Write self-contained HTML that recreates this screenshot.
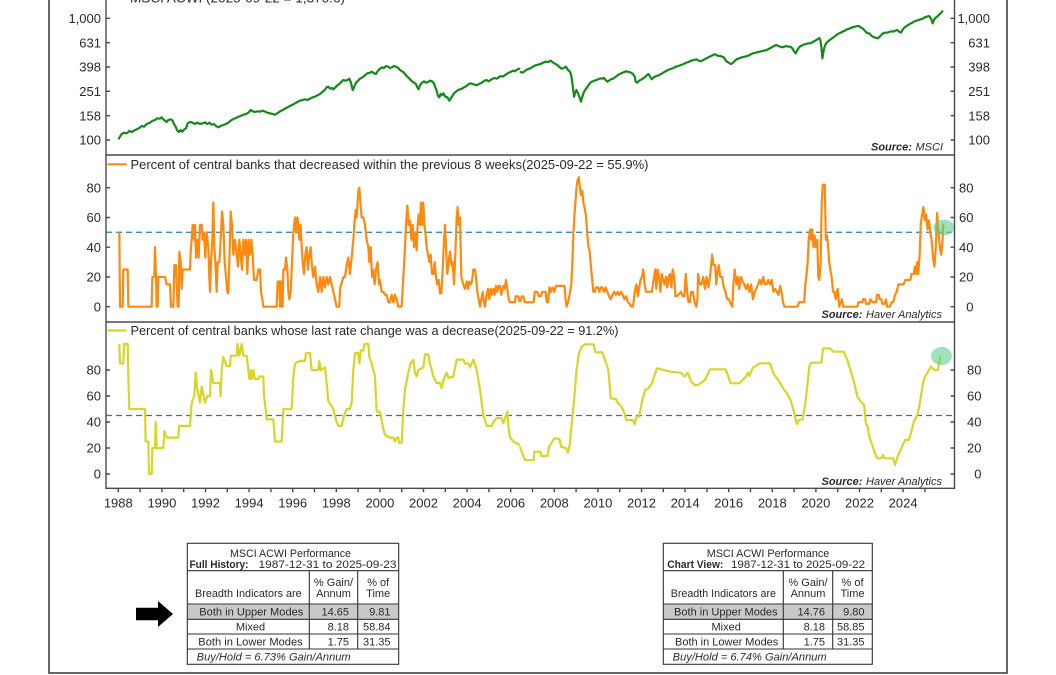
<!DOCTYPE html>
<html><head><meta charset="utf-8"><style>
html,body{margin:0;padding:0;background:#fff;}
svg{display:block;}
text{font-family:"Liberation Sans",sans-serif;fill:#2a2a2a;}
</style></head><body>
<svg width="1056" height="675" viewBox="0 0 1056 675" xmlns="http://www.w3.org/2000/svg">
<rect width="1056" height="675" fill="#fff"/>
<!-- outer frame -->
<path d="M49,0 V673 H1007 V0" fill="none" stroke="#333" stroke-width="1.5"/>

<!-- dashed reference lines -->
<line x1="106" y1="232.3" x2="954" y2="232.3" stroke="#3a8fc0" stroke-width="1.3" stroke-dasharray="6,4"/>
<line x1="106" y1="415.5" x2="954" y2="415.5" stroke="#666" stroke-width="1.3" stroke-dasharray="6,4"/>

<!-- GREEN series (MSCI ACWI) -->
<g fill="none" stroke="#17881a" stroke-width="2.2" stroke-linejoin="round">
<polyline vector-effect="non-scaling-stroke" transform="matrix(0.33333 0 0 0.33333 0 0)" points="355,418 360,410 365,402 372,398 380,400 388,393 395,396 402,392 410,388 418,384 425,378 432,380 440,372 450,368 458,362 465,360 472,355 480,356 485,352 490,358 495,362 500,366 505,360 512,358 518,362 522,372 527,380 532,392 537,396 542,390 547,395 553,388 558,385 563,370 570,366 578,368 585,372 592,368 600,372 608,370 615,367 622,372 628,368 635,374 642,372 648,378 655,382 662,378 670,375 678,372 685,368 692,362 700,357 708,354 715,350 722,348 730,344 738,342 745,338 752,330 758,334 765,336 772,334 780,335 788,332 795,335 802,338 810,340 818,342 825,344 832,340 840,334 848,330 855,326 862,322 870,318 878,314 885,310 892,306 900,302 908,300 915,298 922,300 930,296 938,292 945,290 952,286 960,282 967,276 974,270 980,262 985,260 990,266 995,264 1000,268 1006,262 1012,256 1018,252 1025,245 1030,240 1036,242 1042,240 1048,236 1053,248 1058,270 1062,262 1068,248 1074,242 1080,236 1088,232 1095,226 1102,220 1110,218 1116,215 1122,220 1128,222 1134,212 1140,206 1146,202 1152,204 1158,198 1164,200 1170,204 1176,202 1182,198 1188,200 1195,204 1200,210 1206,214 1212,218 1218,226 1224,232 1230,238 1236,244 1242,248 1248,252 1252,262 1256,268 1260,256 1266,248 1272,244 1278,248 1284,246 1290,242 1296,244 1302,250 1306,262 1310,272 1314,288 1318,292 1322,282 1326,286 1330,280 1336,290 1342,292 1348,302 1352,296 1356,290 1362,280 1368,275 1374,270 1380,268 1386,266 1392,262 1400,258 1406,252 1412,250 1418,252 1424,254 1430,256 1436,252 1442,250 1448,246 1454,242 1460,240 1466,244 1472,240 1478,236 1484,234 1490,236 1496,232 1502,228 1508,230 1514,226 1520,222 1526,218 1532,216 1538,212 1544,214 1550,210 1556,206 1560,208"/>
<polyline vector-effect="non-scaling-stroke" transform="matrix(0.34247 0 0 0.33333 520 0)" points="0,215 8,218 15,212 22,208 30,205 38,200 45,196 52,194 60,192 67,188 75,185 82,186 90,182 97,188 104,192 110,196 116,202 122,206 128,204 134,200 140,210 146,215 150,228 153,250 156,275 158,290 161,278 165,270 170,282 175,295 178,305 182,290 186,278 190,270 196,262 202,252 208,246 215,243 222,240 228,238 235,235 240,236 245,234 250,240 255,245 260,242 265,238 272,236 280,230 288,224 295,220 302,217 310,214 318,216 324,218 330,222 335,230 338,245 342,248 348,242 352,240 358,236 364,232 370,226 375,222 380,230 385,238 390,232 398,228 405,226 412,222 418,218 425,214 432,210 440,207 448,204 455,200 462,198 470,195 478,192 485,188 492,186 500,182 508,180 515,178 522,182 528,184 535,180 542,176 550,172 558,168 565,164 570,163 575,166 580,168 585,168 590,170 595,172 600,180 605,186 610,188 615,192 620,190 626,184 632,178 640,175 648,172 656,170 664,168 672,164 680,160 688,158 696,156 704,154 712,152 720,150 728,146 735,142 742,138 748,135 754,138 760,140 766,142 772,140 778,138 784,140 790,140 796,146 800,154 805,160 810,150 815,142 820,138 828,134 835,132 842,130 848,130 855,126 862,122 868,118 874,114 877,120 880,142 883,175 886,155 890,138 895,128 902,122 910,116 918,110 925,104 932,100 940,96 948,92 955,88 962,86 970,82 978,80 985,78 990,78 995,82 1000,85 1005,90 1010,96 1015,100 1020,100 1025,106 1030,110 1035,112 1040,114 1045,115 1050,110 1055,105 1060,100 1066,98 1072,98 1078,96 1084,94 1090,95 1096,92 1102,90 1108,96 1112,98 1116,92 1120,85 1126,80 1132,76 1138,72 1145,68 1152,64 1158,62 1164,60 1170,58 1176,56 1182,52 1188,50 1194,48 1198,52 1202,60 1205,70 1208,62 1212,55 1218,50 1224,44 1230,38 1235,32"/>
</g>

<!-- ORANGE series -->
<g fill="none" stroke="#ff8a12" stroke-width="2.2" stroke-linejoin="round">
<polyline vector-effect="non-scaling-stroke" transform="matrix(0.33333 0 0 -1.4875 0 306.7)" points="358,50 360,0 368,0 370,25 383,25 385,0 455,0 457,20 463,20 465,40 468,20 470,0 473,0 475,20 495,20 500,15 510,15 513,0 520,0 523,28 528,28 530,15 533,0 536,0 538,37 542,30 545,12 548,25 570,25 572,37 575,45 578,55 582,45 585,55 588,33 592,45 596,33 600,55 605,55 608,45 612,50 616,33 620,50 625,40 628,20 630,10 633,30 637,45 640,70 643,40 646,30 650,10 653,30 658,30 662,45 666,64 670,55 674,30 678,20 682,10 685,9 688,30 692,64 696,55 700,35 705,45 710,35 714,27 718,45 722,35 726,25 730,45 734,35 738,45 742,22 746,45 750,35 754,45 758,35 762,18 770,18 775,25 780,25 783,10 787,5 790,0 830,0 833,17 838,17 840,0 843,17 846,0 848,0 850,25 855,25 858,33 862,25 865,10 868,5 872,10 875,25 880,50 885,60 888,50 892,60 895,55 898,45 902,55 905,40 908,30 912,22 916,35 920,40 924,25 928,35 932,40 936,27 940,20 945,27 950,15 955,10 960,20 965,10 970,20 975,13 980,20 985,15 990,20 995,15 1000,10 1005,5 1010,0 1018,0 1020,12 1030,20 1035,20 1040,28 1045,33 1050,22 1055,33 1060,45 1063,55 1067,65 1070,60 1075,78 1078,80 1081,70 1085,60 1090,60 1095,55 1100,45 1105,40 1108,30 1112,40 1116,20 1120,25 1124,15 1128,25 1133,30 1137,15 1140,18 1145,10 1150,10 1155,8 1160,8 1165,3 1170,3 1175,8 1180,3 1185,8 1190,5 1195,0 1205,0 1210,20 1215,40 1218,55 1222,68 1226,55 1230,58 1234,45 1238,55 1242,40 1246,50 1250,38 1253,55 1256,62 1260,55 1263,70 1266,55 1270,70 1273,55 1276,50 1280,40 1284,35 1288,30 1292,35 1296,22 1300,22 1304,30 1308,20 1312,15 1316,18 1320,9 1324,9 1328,25 1332,45 1335,55 1338,40 1342,22 1346,30 1350,37 1354,28 1358,30 1362,15 1366,35 1370,60 1373,67 1376,55 1380,60 1384,20 1390,15 1395,12 1400,17 1404,12 1408,17 1412,15 1416,17 1420,25 1425,25 1428,20 1432,10 1436,5 1440,0 1444,5 1448,10 1452,3 1455,0 1460,8 1464,12 1468,5 1472,12 1476,8 1480,12 1484,8 1488,14 1492,10 1496,14 1500,14 1504,8 1510,14 1514,12 1518,18 1522,12 1526,5 1530,3 1545,3 1547,7 1555,7 1560,3"/>
<polyline vector-effect="non-scaling-stroke" transform="matrix(0.34247 0 0 -1.4875 520 306.7)" points="0,3 5,7 10,7 14,3 40,3 43,10 50,10 55,7 60,7 65,10 75,10 78,3 82,3 86,13 90,10 95,13 100,10 105,14 130,14 133,5 136,0 140,3 145,8 150,15 153,30 156,50 160,65 165,80 168,85 172,87 175,80 178,75 182,78 185,70 190,65 193,60 196,50 200,40 203,38 206,30 210,20 214,10 218,10 222,13 228,13 232,10 236,13 240,13 245,10 250,13 255,10 260,7 265,5 270,8 275,10 280,8 285,10 290,8 295,10 300,8 305,5 310,7 315,3 320,2 325,0 330,0 335,10 340,15 344,7 348,13 352,18 356,20 360,25 364,15 368,10 375,10 380,10 385,10 390,18 395,25 398,12 402,25 406,20 410,10 414,22 418,18 422,15 426,20 430,13 434,20 438,22 442,13 446,25 450,20 454,7 458,7 470,10 475,7 480,7 484,22 488,10 492,3 496,3 500,10 505,10 510,3 515,0 518,5 520,22 525,15 530,15 535,20 540,12 545,20 550,13 555,20 558,28 561,35 565,28 570,28 573,15 576,22 580,28 585,20 590,20 595,13 600,10 605,5 610,5 615,2 620,0 623,15 627,25 632,15 636,20 640,12 645,20 650,17 655,15 660,12 665,15 670,10 675,15 680,5 685,10 690,12 695,15 700,18 705,15 710,20 715,15 720,15 725,18 730,15 735,18 740,10 745,12 750,10 755,8 760,14 765,8 768,3 772,0 810,0 815,3 830,3 833,15 836,20 840,30 843,45 847,52 850,45 853,52 857,40 860,48 864,40 868,45 871,20 874,18 878,30 881,70 884,82 890,82 893,45 896,48 900,40 903,30 906,25 910,20 914,10 918,10 922,5 925,10 928,12 932,0 936,3 940,5 944,0 950,0 985,0 988,3 1000,3 1002,5 1008,5 1010,2 1020,2 1023,5 1030,3 1040,3 1042,8 1048,8 1050,5 1055,5 1058,2 1065,2 1068,5 1072,0 1080,0 1085,3 1090,3 1095,8 1100,10 1105,15 1115,15 1120,15 1125,18 1140,18 1143,22 1150,22 1153,27 1157,22 1160,30 1163,22 1167,35 1170,55 1174,62 1178,67 1182,58 1186,62 1190,52 1194,58 1198,50 1202,45 1206,33 1210,27 1214,40 1218,63 1222,50 1226,40 1230,35 1234,45 1236,56"/>
</g>

<!-- YELLOW series -->
<g fill="none" stroke="#d6d62a" stroke-width="2.2" stroke-linejoin="round">
<polyline vector-effect="non-scaling-stroke" transform="matrix(0.33333 0 0 -1.3 0 474)" points="358,100 360,85 370,85 372,100 383,100 385,75 388,50 435,50 437,25 445,25 447,0 455,0 457,20 465,20 467,40 470,20 490,20 493,33 500,28 535,28 537,37 570,37 575,55 583,60 587,78 592,65 600,55 605,67 615,55 622,60 630,60 633,80 640,70 660,70 662,60 665,80 670,90 680,83 690,83 692,91 710,91 712,100 718,91 725,100 730,91 740,91 745,80 748,73 752,80 755,73 760,80 765,73 775,73 778,75 790,75 792,60 797,50 800,42 820,42 825,25 845,25 850,50 875,50 880,75 885,85 900,87 915,87 918,93 930,93 935,80 955,80 958,87 962,80 975,82 980,70 985,56 995,52 1000,50 1010,40 1015,37 1025,37 1032,45 1040,50 1050,50 1055,55 1060,80 1065,93 1075,93 1078,85 1082,95 1090,95 1093,100 1105,100 1108,90 1115,85 1125,75 1130,48 1140,48 1148,37 1155,30 1170,28 1180,28 1185,25 1190,28 1195,28 1197,24 1205,24 1210,50 1215,65 1225,78 1232,85 1240,88 1245,78 1250,75 1255,80 1270,82 1275,92 1285,92 1290,85 1300,75 1310,70 1320,70 1325,66 1330,72 1340,78 1345,74 1360,75 1370,88 1390,88 1395,85 1405,85 1410,82 1420,88 1430,80 1440,65 1450,45 1460,37 1475,37 1480,40 1490,43 1505,43 1510,39 1518,45 1522,48 1525,37 1530,28 1540,25 1555,23 1560,22"/>
<polyline vector-effect="non-scaling-stroke" transform="matrix(0.34247 0 0 0.33333 520 320)" points="0,380 10,410 15,420 40,420 42,395 60,395 62,408 80,408 85,380 100,355 115,357 120,380 135,385 140,398 145,375 152,300 158,240 165,150 172,100 180,80 190,73 215,73 220,97 240,97 250,125 258,150 265,235 280,237 285,248 295,258 300,268 305,280 310,300 330,300 335,313 340,290 348,290 355,250 365,210 375,205 385,190 398,150 400,145 440,155 470,158 480,170 490,158 495,172 500,185 510,195 520,195 540,180 555,148 580,148 600,148 605,160 615,190 640,190 650,180 660,170 665,158 670,168 680,143 700,130 730,130 740,160 750,175 760,190 770,208 780,220 790,240 800,275 808,312 815,300 825,298 830,270 835,235 845,140 850,128 880,128 885,85 905,85 915,95 945,95 955,118 965,150 975,185 985,230 995,245 1005,255 1010,310 1015,320 1020,350 1030,380 1040,410 1045,415 1055,415 1060,405 1065,415 1090,415 1095,435 1100,418 1105,405 1115,380 1125,360 1135,360 1140,345 1150,305 1160,285 1165,265 1175,200 1180,175 1200,140 1210,150 1220,150 1228,108"/>
</g>

<!-- highlight circles -->
<ellipse cx="944" cy="227.5" rx="10.5" ry="8" fill="#5ccf8a" fill-opacity="0.6"/>
<ellipse cx="941.5" cy="356" rx="10.5" ry="9" fill="#5ccf8a" fill-opacity="0.6"/>

<!-- plot frames -->
<g fill="none" stroke="#4a4a4a" stroke-width="1.4">
<path d="M106,0 V488.3 H954.5 V0"/>
<line x1="106" y1="155" x2="954.5" y2="155"/>
<line x1="106" y1="322" x2="954.5" y2="322"/>
<!-- y ticks -->
<path d="M106,18.3h4M106,42.7h4M106,67h4M106,91.3h4M106,115.7h4M106,140h4 M954.5,18.3h-4M954.5,42.7h-4M954.5,67h-4M954.5,91.3h-4M954.5,115.7h-4M954.5,140h-4"/>
<path d="M106,187.7h4M106,217.5h4M106,247.2h4M106,277h4M106,306.7h4 M954.5,187.7h-4M954.5,217.5h-4M954.5,247.2h-4M954.5,277h-4M954.5,306.7h-4"/>
<path d="M106,370h4M106,396h4M106,422h4M106,448h4M106,474h4 M954.5,370h-4M954.5,396h-4M954.5,422h-4M954.5,448h-4M954.5,474h-4"/>
<!-- x ticks -->
<path d="M118.3,488.3v4M140.1,488.3v4M161.9,488.3v4M183.7,488.3v4M205.5,488.3v4M227.3,488.3v4M249.1,488.3v4M270.9,488.3v4M292.7,488.3v4M314.5,488.3v4M336.3,488.3v4M358.1,488.3v4M379.9,488.3v4M401.7,488.3v4M423.5,488.3v4M445.3,488.3v4M467.1,488.3v4M488.9,488.3v4M510.7,488.3v4M532.5,488.3v4M554.3,488.3v4M576.1,488.3v4M597.9,488.3v4M619.7,488.3v4M641.5,488.3v4M663.3,488.3v4M685.1,488.3v4M706.9,488.3v4M728.7,488.3v4M750.5,488.3v4M772.3,488.3v4M794.1,488.3v4M815.9,488.3v4M837.7,488.3v4M859.5,488.3v4M881.3,488.3v4M903.1,488.3v4M924.9,488.3v4"/>
</g>

<!-- legends -->
<text x="130" y="2.5" font-size="13" textLength="215" lengthAdjust="spacingAndGlyphs">MSCI ACWI (2025-09-22 = 1,370.6)</text>
<line x1="107.5" y1="164.3" x2="126.7" y2="164.3" stroke="#ff8a12" stroke-width="2.2"/>
<text x="130.5" y="168.8" font-size="13" textLength="518" lengthAdjust="spacingAndGlyphs">Percent of central banks that decreased within the previous 8 weeks(2025-09-22 = 55.9%)</text>
<line x1="107.5" y1="330.5" x2="126.7" y2="330.5" stroke="#d6d62a" stroke-width="2.2"/>
<text x="130.5" y="335" font-size="13" textLength="488" lengthAdjust="spacingAndGlyphs">Percent of central banks whose last rate change was a decrease(2025-09-22 = 91.2%)</text>

<!-- y labels -->
<g font-size="13" text-anchor="end">
<text x="101" y="23">1,000</text><text x="101" y="47.4">631</text><text x="101" y="71.7">398</text><text x="101" y="96">251</text><text x="101" y="120.4">158</text><text x="101" y="144.7">100</text>
<text x="990" y="23">1,000</text><text x="990" y="47.4">631</text><text x="990" y="71.7">398</text><text x="990" y="96">251</text><text x="990" y="120.4">158</text><text x="990" y="144.7">100</text>
<text x="101" y="192.4">80</text><text x="101" y="222.2">60</text><text x="101" y="251.9">40</text><text x="101" y="281.7">20</text><text x="101" y="311.4">0</text>
<text x="973.5" y="192.4">80</text><text x="973.5" y="222.2">60</text><text x="973.5" y="251.9">40</text><text x="973.5" y="281.7">20</text><text x="973.5" y="311.4">0</text>
<text x="101" y="374.7">80</text><text x="101" y="400.7">60</text><text x="101" y="426.7">40</text><text x="101" y="452.7">20</text><text x="101" y="478.7">0</text>
<text x="981.5" y="374.7">80</text><text x="981.5" y="400.7">60</text><text x="981.5" y="426.7">40</text><text x="981.5" y="452.7">20</text><text x="981.5" y="478.7">0</text>
</g>

<!-- x labels -->
<g font-size="13" text-anchor="middle">
<text x="118.3" y="507.4">1988</text><text x="161.9" y="507.4">1990</text><text x="205.5" y="507.4">1992</text><text x="249.1" y="507.4">1994</text><text x="292.7" y="507.4">1996</text><text x="336.3" y="507.4">1998</text><text x="379.9" y="507.4">2000</text><text x="423.5" y="507.4">2002</text><text x="467.1" y="507.4">2004</text><text x="510.7" y="507.4">2006</text><text x="554.3" y="507.4">2008</text><text x="597.9" y="507.4">2010</text><text x="641.5" y="507.4">2012</text><text x="685.1" y="507.4">2014</text><text x="728.7" y="507.4">2016</text><text x="772.3" y="507.4">2018</text><text x="815.9" y="507.4">2020</text><text x="859.5" y="507.4">2022</text><text x="903.1" y="507.4">2024</text>
</g>

<!-- sources -->
<g font-size="11" font-style="italic">
<text x="871" y="150.6"><tspan font-weight="bold">Source:</tspan></text><text x="915.5" y="150.6">MSCI</text>
<text x="821.5" y="318.2"><tspan font-weight="bold">Source:</tspan></text><text x="866" y="318.2" textLength="76" lengthAdjust="spacingAndGlyphs">Haver Analytics</text>
<text x="821.5" y="485"><tspan font-weight="bold">Source:</tspan></text><text x="866" y="485" textLength="76" lengthAdjust="spacingAndGlyphs">Haver Analytics</text>
</g>

<!-- arrow -->
<polygon points="136,607.7 158,607.7 158,601 173,614 158,627 158,620.3 136,620.3" fill="#000"/>

<!-- TABLE 1 -->
<rect x="187.3" y="604" width="211.4" height="15.3" fill="#c9c9c9"/>
<g fill="none" stroke="#333" stroke-width="1.1">
<rect x="187.3" y="543.3" width="211.4" height="121"/>
<path d="M187.3,570.7H398.7 M187.3,604H398.7 M187.3,619.3H398.7 M187.3,634H398.7 M187.3,649H398.7 M309.3,570.7V649 M357.7,570.7V649"/>
</g>
<g font-size="11">
<text x="230" y="557" textLength="121" lengthAdjust="spacingAndGlyphs">MSCI ACWI Performance</text>
<text x="189.5" y="568" font-weight="bold" textLength="59" lengthAdjust="spacingAndGlyphs">Full History:</text>
<text x="258.5" y="568" textLength="138" lengthAdjust="spacingAndGlyphs">1987-12-31 to 2025-09-23</text>
<text x="195" y="597" textLength="106.7" lengthAdjust="spacingAndGlyphs">Breadth Indicators are</text>
<text x="333.5" y="586" text-anchor="middle">% Gain/</text>
<text x="333.5" y="597" text-anchor="middle">Annum</text>
<text x="378.2" y="586" text-anchor="middle">% of</text>
<text x="378.2" y="597" text-anchor="middle">Time</text>
<text x="199.3" y="615.6" textLength="104" lengthAdjust="spacingAndGlyphs">Both in Upper Modes</text>
<text x="250.5" y="630.4" text-anchor="middle">Mixed</text>
<text x="198.3" y="645.3" textLength="104.4" lengthAdjust="spacingAndGlyphs">Both in Lower Modes</text>
<text x="349" y="615.6" text-anchor="end">14.65</text>
<text x="349" y="630.4" text-anchor="end">8.18</text>
<text x="349" y="645.3" text-anchor="end">1.75</text>
<text x="390.5" y="615.6" text-anchor="end">9.81</text>
<text x="390.5" y="630.4" text-anchor="end">58.84</text>
<text x="390.5" y="645.3" text-anchor="end">31.35</text>
<text x="196.7" y="660.3" font-style="italic" textLength="154" lengthAdjust="spacingAndGlyphs">Buy/Hold = 6.73% Gain/Annum</text>
</g>

<!-- TABLE 2 -->
<rect x="663.3" y="604" width="209" height="15.3" fill="#c9c9c9"/>
<g fill="none" stroke="#333" stroke-width="1.1">
<rect x="663.3" y="543.3" width="209" height="121"/>
<path d="M663.3,570.7H872.3 M663.3,604H872.3 M663.3,619.3H872.3 M663.3,634H872.3 M663.3,649H872.3 M783.3,570.7V649 M832.7,570.7V649"/>
</g>
<g font-size="11">
<text x="706.7" y="557" textLength="122.6" lengthAdjust="spacingAndGlyphs">MSCI ACWI Performance</text>
<text x="667.3" y="568" font-weight="bold" textLength="56" lengthAdjust="spacingAndGlyphs">Chart View:</text>
<text x="731" y="568" textLength="134" lengthAdjust="spacingAndGlyphs">1987-12-31 to 2025-09-22</text>
<text x="670.7" y="597" textLength="105.3" lengthAdjust="spacingAndGlyphs">Breadth Indicators are</text>
<text x="808" y="586" text-anchor="middle">% Gain/</text>
<text x="808" y="597" text-anchor="middle">Annum</text>
<text x="852.5" y="586" text-anchor="middle">% of</text>
<text x="852.5" y="597" text-anchor="middle">Time</text>
<text x="674" y="615.6" textLength="103.7" lengthAdjust="spacingAndGlyphs">Both in Upper Modes</text>
<text x="726.2" y="630.4" text-anchor="middle">Mixed</text>
<text x="675" y="645.3" textLength="103.3" lengthAdjust="spacingAndGlyphs">Both in Lower Modes</text>
<text x="825" y="615.6" text-anchor="end">14.76</text>
<text x="825" y="630.4" text-anchor="end">8.18</text>
<text x="825" y="645.3" text-anchor="end">1.75</text>
<text x="864.5" y="615.6" text-anchor="end">9.80</text>
<text x="864.5" y="630.4" text-anchor="end">58.85</text>
<text x="864.5" y="645.3" text-anchor="end">31.35</text>
<text x="672.7" y="660.3" font-style="italic" textLength="154" lengthAdjust="spacingAndGlyphs">Buy/Hold = 6.74% Gain/Annum</text>
</g>
</svg>
</body></html>
